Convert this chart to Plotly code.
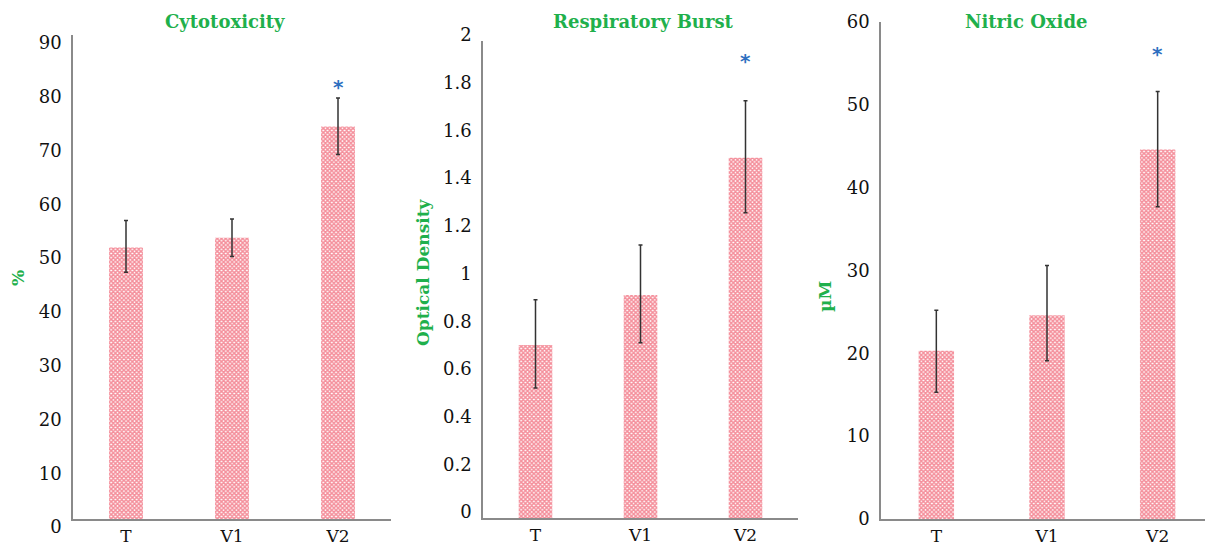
import plotly.graph_objects as go

categories = ["T", "V1", "V2"]

cyto_values = [50.5, 52.3, 73.0]
cyto_err_plus = [5.0, 3.5, 5.3]
cyto_err_minus = [4.6, 3.5, 5.2]

resp_values = [0.725, 0.935, 1.51]
resp_err_plus = [0.19, 0.21, 0.24]
resp_err_minus = [0.18, 0.20, 0.23]

no_values = [20.3, 24.6, 44.6]
no_err_plus = [4.9, 6.0, 7.0]
no_err_minus = [5.0, 5.5, 6.9]

star_y = [80.4, 1.915, 56.1]
titles = ["Cytotoxicity", "Respiratory Burst", "Nitric Oxide"]
ytitles = ["%", "Optical Density", "µM"]
yranges = [[0, 90], [0, 2], [0, 60]]
ydticks = [10, 0.2, 10]
label_shift = [8, -6, 0]

GREEN = "#1fb04c"
BLUE = "#2e6fc0"
FONT = "DejaVu Serif"

# page body has an 8px margin; figure occupies the remaining area
OFF = 8
W, H = 1213 - OFF, 549 - OFF


def px(X):
    return (X - OFF) / W


def py(Y):
    return (549 - Y) / H


fig = go.Figure()

series = [
    (cyto_values, cyto_err_plus, cyto_err_minus),
    (resp_values, resp_err_plus, resp_err_minus),
    (no_values, no_err_plus, no_err_minus),
]

for i, (vals, ep, em) in enumerate(series):
    xa = "x" if i == 0 else f"x{i+1}"
    ya = "y" if i == 0 else f"y{i+1}"
    fig.add_trace(go.Bar(
        x=categories, y=vals, xaxis=xa, yaxis=ya,
        width=0.32,
        marker=dict(
            color="white",
            line=dict(width=0),
            pattern=dict(shape="x", fgcolor="#ea1f38", bgcolor="#ffffff",
                         size=3, solidity=0.75),
        ),
        error_y=dict(type="data", array=ep, arrayminus=em, symmetric=False,
                     color="#333333", thickness=1.5, width=2),
        showlegend=False,
    ))

xdomains = [[px(73), px(391)], [px(483), px(798)], [px(881), 1.0]]
ydomains = [[py(519), py(35)],
            [py(518), py(41)],
            [py(519), py(22)]]

layout = dict(
    width=W, height=H,
    margin=dict(l=0, r=0, t=0, b=0, autoexpand=False),
    paper_bgcolor="white", plot_bgcolor="white",
    font=dict(family=FONT, size=16, color="#111111"),
)

for i in range(3):
    xk = "xaxis" if i == 0 else f"xaxis{i+1}"
    yk = "yaxis" if i == 0 else f"yaxis{i+1}"
    xa = "x" if i == 0 else f"x{i+1}"
    layout[xk] = dict(domain=xdomains[i], anchor="y" if i == 0 else f"y{i+1}",
                      showline=True, linecolor="#8a8a8a", linewidth=1.5,
                      ticks="", showgrid=False, zeroline=False, automargin=False,
                      ticklabelstandoff=1,
                      tickfont=dict(family=FONT, size=17, color="#111111"))
    layout[yk] = dict(domain=ydomains[i], anchor=xa, range=yranges[i],
                      dtick=ydticks[i], tick0=0, automargin=False,
                      showline=True, linecolor="#8a8a8a", linewidth=1.5,
                      ticks="", showgrid=False, zeroline=False,
                      ticklabelstandoff=6, ticklabelshift=label_shift[i],
                      tickfont=dict(family=FONT, size=18, color="#111111"))

fig.update_layout(**layout)

title_x = [225, 643, 1026]
for i in range(3):
    fig.add_annotation(text=f"<b>{titles[i]}</b>", xref="paper", yref="paper",
                       x=px(title_x[i]), y=py(22), showarrow=False,
                       xanchor="center", yanchor="middle",
                       font=dict(family=FONT, size=18, color=GREEN))

ytitle_pos = [(18, 278), (423, 272), (825, 297)]
for i in range(3):
    X, Y = ytitle_pos[i]
    fig.add_annotation(text=f"<b>{ytitles[i]}</b>", xref="paper", yref="paper",
                       x=px(X), y=py(Y), showarrow=False,
                       textangle=-90, xanchor="center", yanchor="middle",
                       font=dict(family=FONT, size=17, color=GREEN))

for i in range(3):
    xa = "x" if i == 0 else f"x{i+1}"
    ya = "y" if i == 0 else f"y{i+1}"
    fig.add_annotation(text="<b>*</b>", x="V2", y=star_y[i], xref=xa, yref=ya,
                       showarrow=False, font=dict(family="DejaVu Sans", size=20, color=BLUE))

fig.write_html("out.html")
